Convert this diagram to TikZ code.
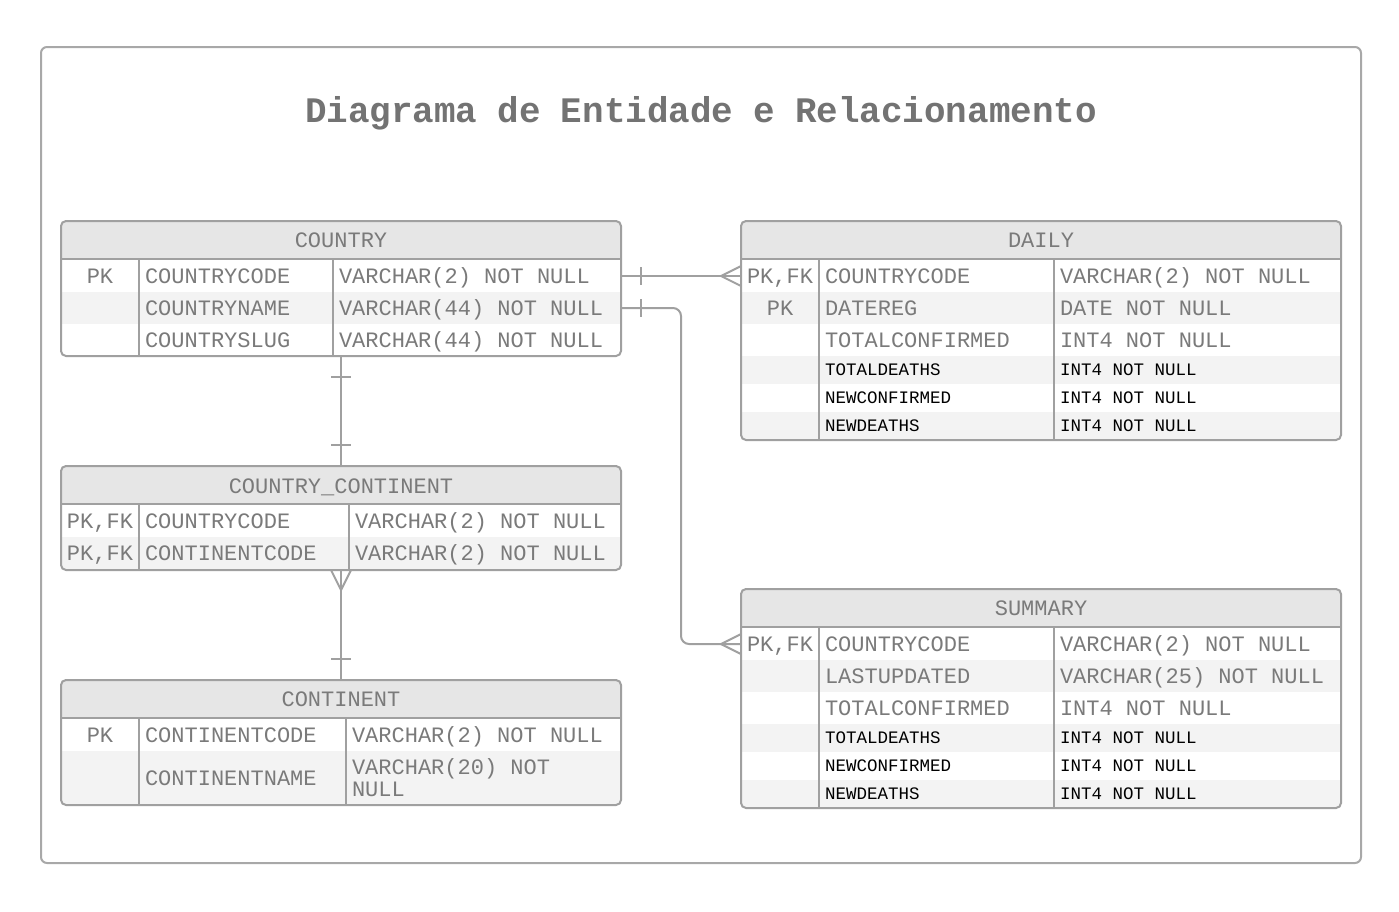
\documentclass[tikz,border=0pt]{standalone}
\usepackage{fontspec}
\newfontfamily\monofam{Liberation Mono}
\newlength\spw
\newcommand\SP{\hspace*{\spw}}
\newcommand\tabf{\monofam\fontsize{22}{22}\selectfont\setlength\spw{13.2pt}}
\newcommand\smallf{\monofam\fontsize{17.5}{18}\selectfont\setlength\spw{10.5pt}}
\newcommand\titlef{\monofam\bfseries\fontsize{35.9}{38}\selectfont\setlength\spw{20.2pt}}
\usetikzlibrary{calc}
\definecolor{linec}{HTML}{A0A0A0}
\definecolor{framec}{HTML}{A8A8A8}
\definecolor{txtc}{HTML}{7A7A7A}
\definecolor{titlec}{HTML}{737373}
\definecolor{hdrc}{HTML}{E6E6E6}
\definecolor{shadec}{HTML}{F3F3F3}
\tikzset{
  cellbase/.style={rectangle, inner ysep=0pt, outer sep=0pt, anchor=north west, font=\tabf, text=txtc, text height=16pt, text depth=1.5pt},
  kc/.style={cellbase, inner xsep=0pt, minimum width=78pt, align=center},
  nc/.style={cellbase, inner xsep=6pt, align=left},
  hA/.style={minimum height=32pt},
  hB/.style={minimum height=28pt, font=\smallf, text=black, text height=13pt, text depth=1.5pt},
  sh/.style={fill=shadec},
  hdrtxt/.style={font=\tabf, text=txtc, inner sep=0pt, text height=16pt, text depth=1.5pt},
  tblbox/.style={draw=linec, line width=2pt, rounded corners=5pt, rectangle, anchor=north west, inner sep=0pt, outer sep=0pt},
  tline/.style={draw=linec, line width=2pt},
  conn/.style={draw=linec, line width=2pt},
  framebox/.style={draw=framec, line width=2pt, rounded corners=6pt, rectangle, anchor=north west, inner sep=0pt, outer sep=0pt},
}
\begin{document}
\begin{tikzpicture}[x=1pt,y=-1pt]
\fill[white] (0,0) rectangle (1399,911);
\useasboundingbox (0,0) rectangle (1399,911);

\node[framebox, minimum width=1320pt, minimum height=816pt] (frame) at (41,47) {};
\node[font=\titlef, text=titlec, anchor=base, inner sep=0pt] (title) at (701,122) {Diagrama\SP de\SP Entidade\SP e\SP Relacionamento};

% ---------------- COUNTRY ----------------
\begin{scope}
\clip[rounded corners=5pt] (61,221) rectangle (621,356);
\fill[hdrc] (61,221) rectangle (621,259);
\node[kc,hA] (cn-k1) at (61,260) {PK};
\node[nc,hA,text width=182pt] (cn-n1) at (139,260) {COUNTRYCODE};
\node[nc,hA,text width=276pt] (cn-t1) at (333,260) {VARCHAR(2)\SP NOT\SP NULL};
\node[kc,hA,sh] (cn-k2) at (61,292) {};
\node[nc,hA,sh,text width=182pt] (cn-n2) at (139,292) {COUNTRYNAME};
\node[nc,hA,sh,text width=276pt] (cn-t2) at (333,292) {VARCHAR(44)\SP NOT\SP NULL};
\node[kc,hA] (cn-k3) at (61,324) {};
\node[nc,hA,text width=182pt] (cn-n3) at (139,324) {COUNTRYSLUG};
\node[nc,hA,text width=276pt] (cn-t3) at (333,324) {VARCHAR(44)\SP NOT\SP NULL};
\end{scope}
\node[hdrtxt] (cn-h) at (341,240) {COUNTRY};
\draw[tline] (61,259) -- (621,259);
\draw[tline] (cn-k1.north east) -- (cn-k3.south east);
\draw[tline] (cn-n1.north east) -- (cn-n3.south east);
\node[tblbox, minimum width=560pt, minimum height=135pt] (cn) at (61,221) {};

% ---------------- DAILY ----------------
\begin{scope}
\clip[rounded corners=5pt] (741,221) rectangle (1341,440);
\fill[hdrc] (741,221) rectangle (1341,259);
\node[kc,hA] (dl-k1) at (741,260) {PK,FK};
\node[nc,hA,text width=223pt] (dl-n1) at (819,260) {COUNTRYCODE};
\node[nc,hA,text width=275pt] (dl-t1) at (1054,260) {VARCHAR(2)\SP NOT\SP NULL};
\node[kc,hA,sh] (dl-k2) at (741,292) {PK};
\node[nc,hA,sh,text width=223pt] (dl-n2) at (819,292) {DATEREG};
\node[nc,hA,sh,text width=275pt] (dl-t2) at (1054,292) {DATE\SP NOT\SP NULL};
\node[kc,hA] (dl-k3) at (741,324) {};
\node[nc,hA,text width=223pt] (dl-n3) at (819,324) {TOTALCONFIRMED};
\node[nc,hA,text width=275pt] (dl-t3) at (1054,324) {INT4\SP NOT\SP NULL};
\node[kc,hB,sh] (dl-k4) at (741,356) {};
\node[nc,hB,sh,text width=223pt] (dl-n4) at (819,356) {TOTALDEATHS};
\node[nc,hB,sh,text width=275pt] (dl-t4) at (1054,356) {INT4\SP NOT\SP NULL};
\node[kc,hB] (dl-k5) at (741,384) {};
\node[nc,hB,text width=223pt] (dl-n5) at (819,384) {NEWCONFIRMED};
\node[nc,hB,text width=275pt] (dl-t5) at (1054,384) {INT4\SP NOT\SP NULL};
\node[kc,hB,sh] (dl-k6) at (741,412) {};
\node[nc,hB,sh,text width=223pt] (dl-n6) at (819,412) {NEWDEATHS};
\node[nc,hB,sh,text width=275pt] (dl-t6) at (1054,412) {INT4\SP NOT\SP NULL};
\end{scope}
\node[hdrtxt] (dl-h) at (1041,240) {DAILY};
\draw[tline] (741,259) -- (1341,259);
\draw[tline] (dl-k1.north east) -- (dl-k6.south east);
\draw[tline] (dl-n1.north east) -- (dl-n6.south east);
\node[tblbox, minimum width=600pt, minimum height=219pt] (dl) at (741,221) {};

% ---------------- COUNTRY_CONTINENT ----------------
\begin{scope}
\clip[rounded corners=5pt] (61,466) rectangle (621,570);
\fill[hdrc] (61,466) rectangle (621,504);
\node[kc,hA] (cc-k1) at (61,505) {PK,FK};
\node[nc,hA,text width=198pt] (cc-n1) at (139,505) {COUNTRYCODE};
\node[nc,hA,text width=260pt] (cc-t1) at (349,505) {VARCHAR(2)\SP NOT\SP NULL};
\node[kc,sh,minimum height=33pt] (cc-k2) at (61,537) {PK,FK};
\node[nc,sh,minimum height=33pt,text width=198pt] (cc-n2) at (139,537) {CONTINENTCODE};
\node[nc,sh,minimum height=33pt,text width=260pt] (cc-t2) at (349,537) {VARCHAR(2)\SP NOT\SP NULL};
\end{scope}
\node[hdrtxt] (cc-h) at (341,486) {COUNTRY\_CONTINENT};
\draw[tline] (61,504) -- (621,504);
\draw[tline] (cc-k1.north east) -- (cc-k2.south east);
\draw[tline] (cc-n1.north east) -- (cc-n2.south east);
\node[tblbox, minimum width=560pt, minimum height=104pt] (cc) at (61,466) {};

% ---------------- CONTINENT ----------------
\begin{scope}
\clip[rounded corners=5pt] (61,680) rectangle (621,805);
\fill[hdrc] (61,680) rectangle (621,718);
\node[kc,hA] (ct-k1) at (61,719) {PK};
\node[nc,hA,text width=195pt] (ct-n1) at (139,719) {CONTINENTCODE};
\node[nc,hA,text width=263pt] (ct-t1) at (346,719) {VARCHAR(2)\SP NOT\SP NULL};
\node[kc,sh,minimum height=54pt] (ct-k2) at (61,751) {};
\node[nc,sh,minimum height=54pt,text width=195pt] (ct-n2) at (139,751) {CONTINENTNAME};
\node[nc,sh,minimum height=54pt,text width=263pt,text height={},text depth={}] (ct-t2) at (346,751) {VARCHAR(20)\SP NOT\\NULL};
\end{scope}
\node[hdrtxt] (ct-h) at (341,699) {CONTINENT};
\draw[tline] (61,718) -- (621,718);
\draw[tline] (ct-k1.north east) -- (ct-k2.south east);
\draw[tline] (ct-n1.north east) -- (ct-n2.south east);
\node[tblbox, minimum width=560pt, minimum height=125pt] (ct) at (61,680) {};

% ---------------- SUMMARY ----------------
\begin{scope}
\clip[rounded corners=5pt] (741,589) rectangle (1341,808);
\fill[hdrc] (741,589) rectangle (1341,627);
\node[kc,hA] (sm-k1) at (741,628) {PK,FK};
\node[nc,hA,text width=223pt] (sm-n1) at (819,628) {COUNTRYCODE};
\node[nc,hA,text width=275pt] (sm-t1) at (1054,628) {VARCHAR(2)\SP NOT\SP NULL};
\node[kc,hA,sh] (sm-k2) at (741,660) {};
\node[nc,hA,sh,text width=223pt] (sm-n2) at (819,660) {LASTUPDATED};
\node[nc,hA,sh,text width=275pt] (sm-t2) at (1054,660) {VARCHAR(25)\SP NOT\SP NULL};
\node[kc,hA] (sm-k3) at (741,692) {};
\node[nc,hA,text width=223pt] (sm-n3) at (819,692) {TOTALCONFIRMED};
\node[nc,hA,text width=275pt] (sm-t3) at (1054,692) {INT4\SP NOT\SP NULL};
\node[kc,hB,sh] (sm-k4) at (741,724) {};
\node[nc,hB,sh,text width=223pt] (sm-n4) at (819,724) {TOTALDEATHS};
\node[nc,hB,sh,text width=275pt] (sm-t4) at (1054,724) {INT4\SP NOT\SP NULL};
\node[kc,hB] (sm-k5) at (741,752) {};
\node[nc,hB,text width=223pt] (sm-n5) at (819,752) {NEWCONFIRMED};
\node[nc,hB,text width=275pt] (sm-t5) at (1054,752) {INT4\SP NOT\SP NULL};
\node[kc,hB,sh] (sm-k6) at (741,780) {};
\node[nc,hB,sh,text width=223pt] (sm-n6) at (819,780) {NEWDEATHS};
\node[nc,hB,sh,text width=275pt] (sm-t6) at (1054,780) {INT4\SP NOT\SP NULL};
\end{scope}
\node[hdrtxt] (sm-h) at (1041,608) {SUMMARY};
\draw[tline] (741,627) -- (1341,627);
\draw[tline] (sm-k1.north east) -- (sm-k6.south east);
\draw[tline] (sm-n1.north east) -- (sm-n6.south east);
\node[tblbox, minimum width=600pt, minimum height=219pt] (sm) at (741,589) {};

% ---------------- connectors ----------------
% COUNTRY -> DAILY
\draw[conn] (cn-t1.east) -- (dl-k1.west);
\draw[conn] ($(cn-t1.east)+(20,-9)$) -- ($(cn-t1.east)+(20,9)$);
\draw[conn] ($(dl-k1.west)+(0,-10)$) -- ($(dl-k1.west)+(-20,0)$) -- ($(dl-k1.west)+(0,10)$);
% COUNTRY -> SUMMARY
\draw[conn, rounded corners=8pt] (cn-t2.east) -- ++(60,0) |- (sm-k1.west);
\draw[conn] ($(cn-t2.east)+(20,-9)$) -- ($(cn-t2.east)+(20,9)$);
\draw[conn] ($(sm-k1.west)+(0,-10)$) -- ($(sm-k1.west)+(-20,0)$) -- ($(sm-k1.west)+(0,10)$);
% COUNTRY -> COUNTRY_CONTINENT
\draw[conn] (cn.south) -- (cc.north);
\draw[conn] ($(cn.south)+(-10,21)$) -- ++(20,0);
\draw[conn] ($(cc.north)+(-10,-21)$) -- ++(20,0);
% COUNTRY_CONTINENT -> CONTINENT
\draw[conn] (cc.south) -- (ct.north);
\draw[conn] ($(cc.south)+(-10,0)$) -- ($(cc.south)+(0,20)$) -- ($(cc.south)+(10,0)$);
\draw[conn] ($(ct.north)+(-10,-21)$) -- ++(20,0);
\end{tikzpicture}
\end{document}
